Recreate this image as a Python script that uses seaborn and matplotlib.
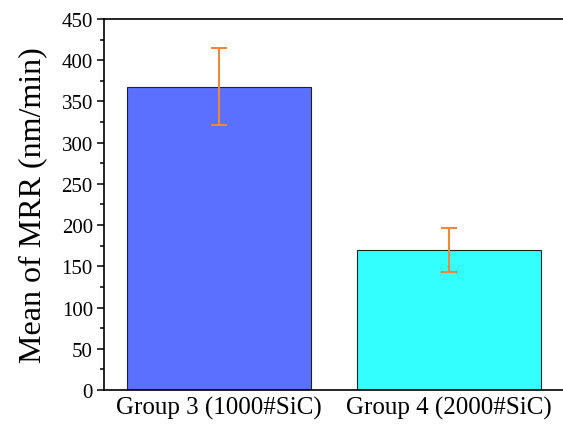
import numpy as np
import pandas as pd
import matplotlib
matplotlib.use("Agg")
import matplotlib.pyplot as plt
import seaborn as sns
from matplotlib.ticker import MultipleLocator

# values
groups = ["Group 3 (1000#SiC)", "Group 4 (2000#SiC)"]
mrr_mean = [368, 170]
mrr_err = [47, 27]
bar_colors = ["#5B70FF", "#33FFFF"]

df = pd.DataFrame({"group": groups, "mrr": mrr_mean})

sns.set_style("ticks")
plt.rcParams["font.family"] = ["Liberation Serif", "DejaVu Serif"]
plt.rcParams["text.color"] = "black"
plt.rcParams["axes.labelcolor"] = "black"
plt.rcParams["xtick.color"] = "black"
plt.rcParams["ytick.color"] = "black"

fig = plt.figure(figsize=(5.63, 4.27), dpi=100)
ax = fig.add_axes([0.1847, 0.0843, 0.8171, 0.869])

sns.barplot(data=df, x="group", y="mrr", hue="group", palette=bar_colors,
            saturation=1, width=0.8, edgecolor="#222222", linewidth=0.8,
            legend=False, ax=ax)
ax.errorbar(groups, mrr_mean, yerr=mrr_err, fmt="none", ecolor="#F0883A",
            elinewidth=1.5, capsize=5.5, capthick=1.5, zorder=5)

ax.set_xlim(-0.5, 1.5)
ax.set_ylim(0, 450)
ax.yaxis.set_major_locator(MultipleLocator(50))
ax.yaxis.set_minor_locator(MultipleLocator(25))

ax.set_xlabel("")
ax.set_ylabel("Mean of MRR (nm/min)", fontsize=23, labelpad=10)
ax.tick_params(axis="y", which="major", direction="out", length=5, width=1.1, labelsize=15, pad=3)
ax.tick_params(axis="y", which="minor", direction="out", length=3, width=1.1)
ax.tick_params(axis="x", length=0, labelsize=18, pad=4)

for side in ["left", "bottom", "top"]:
    ax.spines[side].set_visible(True)
    ax.spines[side].set_linewidth(1.2)
    ax.spines[side].set_color("black")
ax.spines["right"].set_visible(False)

fig.savefig("out.png", dpi=100)
